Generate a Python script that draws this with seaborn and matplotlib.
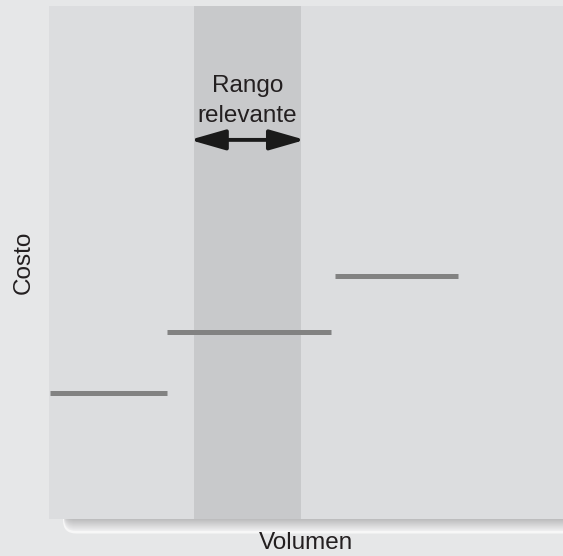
import numpy as np
import pandas as pd
import matplotlib
matplotlib.use('Agg')
import matplotlib.pyplot as plt
from matplotlib.patches import FancyBboxPatch
import seaborn as sns

# datos (unidades arbitrarias, eje 0-10)
seg_ids   = ['a', 'a', 'b', 'b', 'c', 'c']
seg_x     = [0.02, 2.30, 2.30, 5.48, 5.56, 7.95]
seg_costo = [2.46, 2.46, 3.65, 3.65, 4.73, 4.73]
rango     = [2.82, 4.90]
rango_txt = ['Rango', 'relevante']

df = pd.DataFrame({'seg': seg_ids, 'volumen': seg_x, 'costo': seg_costo})

sns.set_style('white')
plt.rcParams['font.family'] = ['Liberation Sans', 'DejaVu Sans']

W, H = 563, 556
fig = plt.figure(figsize=(W / 100, H / 100), dpi=100)
fig.patch.set_facecolor('#e6e7e8')

# sombra / borde redondeado bajo el area del grafico
fig.patches.append(FancyBboxPatch((63, 22.5), 700, 60,
                                  boxstyle='round,pad=0,rounding_size=13',
                                  transform=None, facecolor='#f7f7f7',
                                  edgecolor='none', zorder=-2))
n = 12
for i in range(n):
    t = i / (n - 1)
    c = 0.93 - 0.19 * t
    bottom = 25 + i * 1.0
    fig.patches.append(FancyBboxPatch((64, bottom), 700, 60 - i,
                                      boxstyle='round,pad=0,rounding_size=12',
                                      transform=None, facecolor=(c, c, c + 0.005),
                                      edgecolor='none', zorder=-1))

ax = fig.add_axes([49 / W, (H - 519) / H, 514 / W, 513 / H])
ax.set_zorder(1)
ax.set_facecolor('#dcdddf')
ax.set_xlim(0, 10)
ax.set_ylim(0, 10)

ax.axvspan(rango[0], rango[1], color='#c8c9cb', lw=0, zorder=0)

sns.lineplot(data=df, x='volumen', y='costo', units='seg', estimator=None,
             color='#828282', lw=3.6, ax=ax, legend=False)
for ln in ax.lines:
    ln.set_solid_capstyle('butt')

xm = (rango[0] + rango[1]) / 2
ax.annotate('', xy=(rango[0] - 0.08, 7.39), xytext=(rango[1] + 0.08, 7.39),
            arrowprops=dict(arrowstyle='<|-|>,head_length=1.08,head_width=0.31',
                            mutation_scale=20, lw=2.8, color='#1a1a1a',
                            shrinkA=0, shrinkB=0))
ax.text(xm, 8.32, rango_txt[0], ha='center', va='baseline', fontsize=17.5, color='#231f20')
ax.text(xm, 7.74, rango_txt[1], ha='center', va='baseline', fontsize=17.5, color='#231f20')

ax.set_xticks([])
ax.set_yticks([])
for s in ax.spines.values():
    s.set_visible(False)

ax.set_xlabel('Volumen', fontsize=17.5, color='#231f20', va='center')
ax.set_ylabel('Costo', fontsize=17.5, color='#231f20', va='center')
ax.xaxis.set_label_coords(0.5, -0.047)
ax.yaxis.set_label_coords(-0.049, 0.50)

fig.savefig('out.png', dpi=100, facecolor=fig.get_facecolor())
